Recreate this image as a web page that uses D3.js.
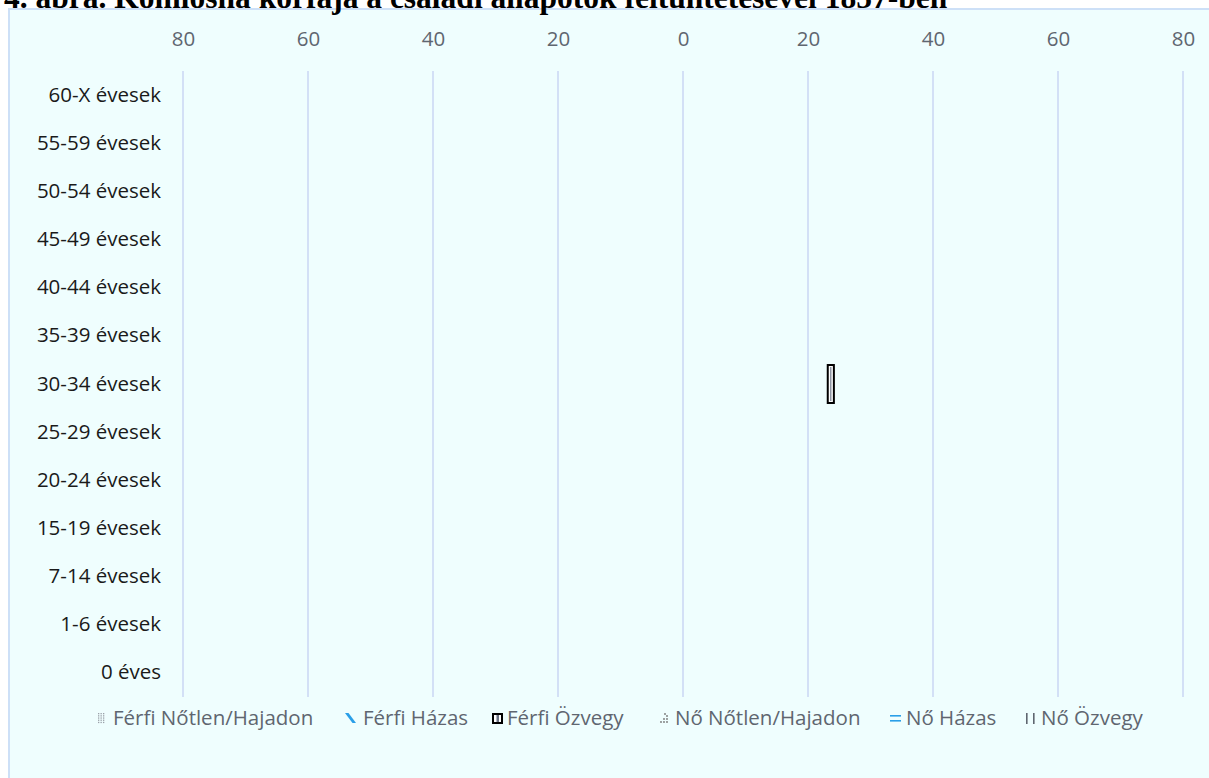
<!DOCTYPE html>
<html><head><meta charset="utf-8">
<script src="https://cdn.jsdelivr.net/npm/d3@7"></script>
<style>
html,body{margin:0;padding:0;background:#fff;overflow:hidden;}
</style></head>
<body>
<svg id="chart" width="1209" height="778"></svg>
<script>
const title = "4. ábra. Komlósna korfája a családi állapotok feltüntetésével 1857-ben";
const categories = ["60-X évesek","55-59 évesek","50-54 évesek","45-49 évesek","40-44 évesek","35-39 évesek","30-34 évesek","25-29 évesek","20-24 évesek","15-19 évesek","7-14 évesek","1-6 évesek","0 éves"];
const seriesNames = ["Férfi Nőtlen/Hajadon","Férfi Házas","Férfi Özvegy","Nő Nőtlen/Hajadon","Nő Házas","Nő Özvegy"];
// Only the Férfi Özvegy bar is visible in the reference; the other series render without visible fill.
const ferfiNotlen = [0,0,0,0,0,0,3,0,0,0,0,0,0];
const ferfiHazas  = [0,0,0,0,0,0,20,0,0,0,0,0,0];
const ferfiOzvegy = [0,0,0,0,0,0,1.3,0,0,0,0,0,0];
const noNotlen = [0,0,0,0,0,0,0,0,0,0,0,0,0];
const noHazas  = [0,0,0,0,0,0,0,0,0,0,0,0,0];
const noOzvegy = [0,0,0,0,0,0,0,0,0,0,0,0,0];
const tickValues = [-80,-60,-40,-20,0,20,40,60,80];

const svg = d3.select("#chart");
const W = 1209, H = 778;
const FONT = "Open Sans, sans-serif";
const FS = 20.5;

// frame
svg.append("rect").attr("x",9).attr("y",9).attr("width",W).attr("height",H)
  .attr("fill","#effefe").attr("stroke","#cde0f7").attr("stroke-width",2);

// title (its top is cut off by the page edge, as in the reference)
svg.append("text").attr("x",4).attr("y",7.5)
  .attr("font-family","Liberation Serif, Times New Roman, serif").attr("font-weight","bold")
  .attr("font-size",31.5).attr("fill","#000").text(title);

const x = d3.scaleLinear().domain([-80,80]).range([183,1183]);
const y = d3.scaleBand().domain(categories).range([71,697]).paddingInner(0.17).paddingOuter(0.085);

// gridlines
svg.append("g").selectAll("line").data(tickValues).join("line")
  .attr("x1",d=>x(d)).attr("x2",d=>x(d)).attr("y1",71).attr("y2",697)
  .attr("stroke","#d3e0f6").attr("stroke-width",2);

// top axis labels
const xAxis = d3.axisTop(x).tickValues(tickValues).tickSize(0).tickFormat(d=>Math.abs(d));
const gx = svg.append("g").attr("transform","translate(0,49)").call(xAxis);
gx.select(".domain").remove();
gx.selectAll("text").attr("font-family",FONT).attr("font-size",FS).attr("fill","#5f6670");

// y labels
const yAxis = d3.axisLeft(y).tickSize(0).tickPadding(0);
const gy = svg.append("g").attr("transform","translate(161,0)").call(yAxis);
gy.select(".domain").remove();
gy.selectAll("text").attr("font-family",FONT).attr("font-size",FS).attr("fill","#1a1a1a");

// stacked bars (stacked toward the right from 0)
const rows = categories.map((c,i)=>({cat:c, fn:ferfiNotlen[i], fh:ferfiHazas[i], fo:ferfiOzvegy[i], nn:noNotlen[i], nh:noHazas[i], no:noOzvegy[i]}));
const stack = d3.stack().keys(["fn","fh","fo","nn","nh","no"]);
const stacked = stack(rows);
const visible = {fo:true};
stacked.forEach(layer=>{
  if(!visible[layer.key]) return;
  const g = svg.append("g");
  layer.forEach(d=>{
    const w = x(d[1]) - x(d[0]);
    if(w<=0) return;
    const bx = x(d[0]), by = y(d.data.cat), bh = y.bandwidth();
    g.append("rect").attr("x",bx).attr("y",by).attr("width",w).attr("height",bh)
      .attr("fill","#000");
    g.append("rect").attr("x",bx+2).attr("y",by+2).attr("width",Math.max(0,w-4)).attr("height",bh-4)
      .attr("fill","#fff");
    g.append("rect").attr("x",bx+3.5).attr("y",by+3).attr("width",Math.max(0,w-7)).attr("height",bh-6)
      .attr("fill","#6b7384");
  });
});

// legend
const legendY = 718;
const legendItems = [
  {name:seriesNames[0], ix:96, tx:113},
  {name:seriesNames[1], ix:344, tx:363},
  {name:seriesNames[2], ix:491, tx:507},
  {name:seriesNames[3], ix:658, tx:675},
  {name:seriesNames[4], ix:889, tx:906},
  {name:seriesNames[5], ix:1024, tx:1041}
];
const lg = svg.append("g");
legendItems.forEach((it,i)=>{
  const gi = lg.append("g").attr("transform",`translate(${it.ix},${legendY})`);
  if(i===0){
    for(let r=0;r<5;r++) for(let c=0;c<3;c++)
      gi.append("rect").attr("x",2+c*2.5).attr("y",-5+r*2.2).attr("width",1.3).attr("height",1.3).attr("fill","#9aa0a8");
  } else if(i===1){
    gi.append("path").attr("d","M1,-5 L4.5,-5 L12,5 L8.5,5 Z").attr("fill","#2a9fe8");
  } else if(i===2){
    gi.append("rect").attr("x",1).attr("y",-5).attr("width",11).attr("height",11).attr("fill","#000");
    gi.append("rect").attr("x",3).attr("y",-3).attr("width",7).attr("height",7).attr("fill","#fff");
    gi.append("rect").attr("x",5.5).attr("y",-3).attr("width",2.5).attr("height",7).attr("fill","#6b7384");
  } else if(i===3){
    [[3,4],[6,1],[9,-2],[6,4],[9,1],[9,4],[7,-4]].forEach(p=>gi.append("circle").attr("cx",p[0]).attr("cy",p[1]).attr("r",0.9).attr("fill","#777"));
  } else if(i===4){
    gi.append("rect").attr("x",1).attr("y",-3).attr("width",11).attr("height",1.6).attr("fill","#2a9fe8");
    gi.append("rect").attr("x",1).attr("y",2).attr("width",11).attr("height",1.6).attr("fill","#2a9fe8");
  } else {
    gi.append("rect").attr("x",2).attr("y",-5).attr("width",1.6).attr("height",11).attr("fill","#5f6670");
    gi.append("rect").attr("x",9).attr("y",-5).attr("width",1.6).attr("height",11).attr("fill","#5f6670");
  }
  lg.append("text").attr("x",it.tx).attr("y",legendY).attr("dy","0.35em")
    .attr("font-family",FONT).attr("font-size",FS).attr("fill","#5f6670").text(it.name);
});
</script>
</body></html>
